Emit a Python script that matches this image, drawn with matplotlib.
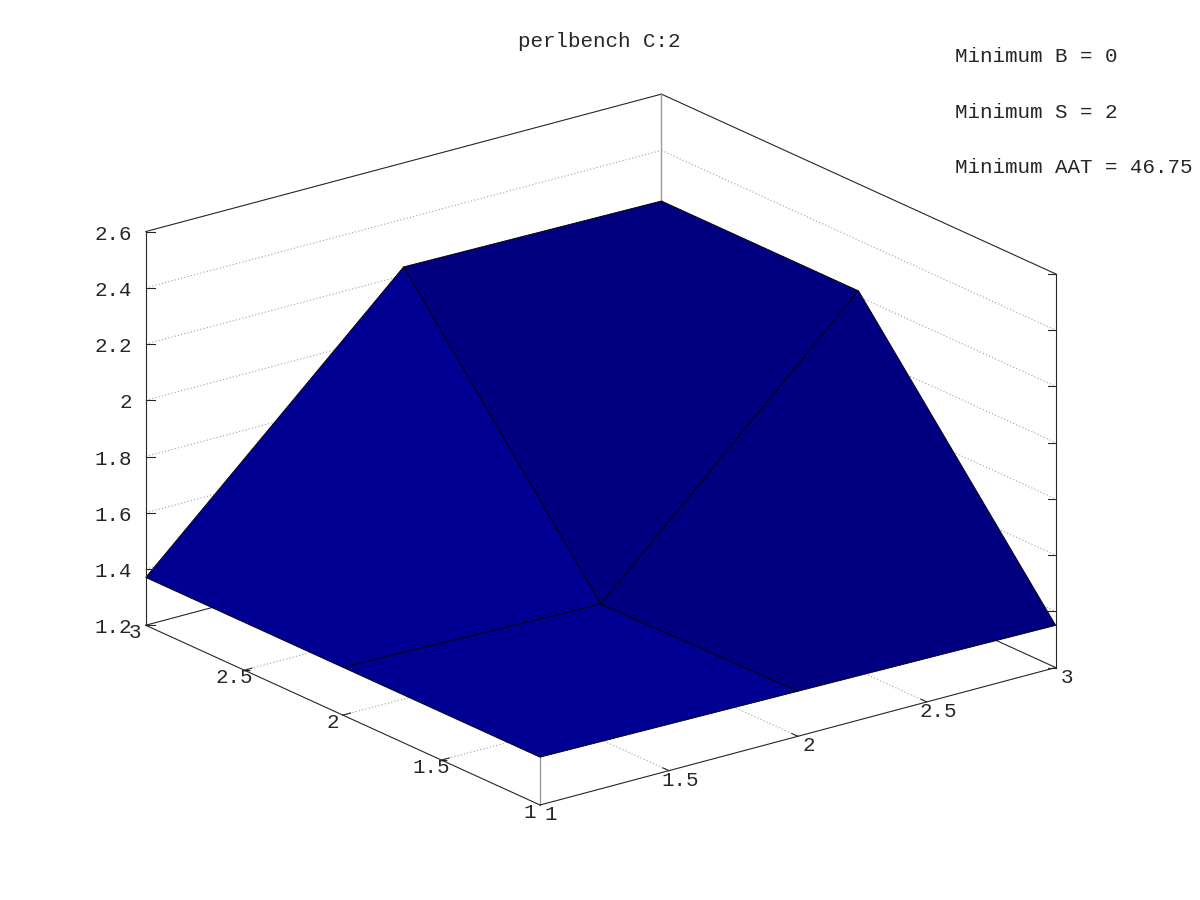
import numpy as np
import matplotlib
matplotlib.use('Agg')
import matplotlib.pyplot as plt
from matplotlib.lines import Line2D
from matplotlib.transforms import IdentityTransform

# ---------------------------------------------------------------------------
# Data (Octave surf, perlbench C:2)
# ---------------------------------------------------------------------------

x_vals = [1, 2, 3]
y_vals = [1, 2, 3]
z_vals = [
    [1.37, 1.36, 1.35],   # y = 1
    [1.37, 1.35, 2.22],   # y = 2
    [1.37, 2.23, 2.22],   # y = 3
]

title = 'perlbench C:2'
notes = ['Minimum B = 0', 'Minimum S = 2', 'Minimum AAT = 46.75']

xy_ticks = [1, 1.5, 2, 2.5, 3]
xy_tick_labels = ['1', '1.5', '2', '2.5', '3']
z_ticks = [1.2, 1.4, 1.6, 1.8, 2.0, 2.2, 2.4, 2.6]
z_tick_labels = ['1.2', '1.4', '1.6', '1.8', '2', '2.2', '2.4', '2.6']

XLIM = (1, 3)
YLIM = (1, 3)
ZLIM = (1.2, 2.6)

W, H = 1200, 900
INK = '#262626'
GRID = '#a0a0a0'
FS = 15

plt.rcParams['font.family'] = ['Liberation Mono', 'DejaVu Sans Mono']

fig = plt.figure(figsize=(12, 9), dpi=100)
# square (in pixels) axes so apply_aspect leaves it alone
ax = fig.add_axes([0.1, 0.1, 0.6, 0.8], projection='3d',
                  proj_type='ortho', computed_zorder=False)
ax.view_init(elev=20.4, azim=-127.4)
ax.set_box_aspect((1, 1, 0.647))
ax.set_xlim(*XLIM)
ax.set_ylim(*YLIM)
ax.set_zlim(*ZLIM)
ax.set_axis_off()
fig.canvas.draw()


def to_px(x, y, z):
    v = ax.get_proj() @ np.array([x, y, z, 1.0])
    return ax.transData.transform((v[0] / v[3], v[1] / v[3]))


# ── fit the projected box onto the Octave layout (pixels, y up) ────────────
x0, x1 = XLIM
y0, y1 = YLIM
z0, z1 = ZLIM
p_front = to_px(x0, y0, z0)
p_left = to_px(x0, y1, z0)
p_right = to_px(x1, y0, z0)
scale = (1055 - 145) / (p_right[0] - p_left[0])
bb = ax.get_position()
bx, by, bw, bh = bb.x0 * W, bb.y0 * H, bb.width * W, bb.height * H
u = (p_front - np.array([bx, by])) / np.array([bw, bh])
nw, nh = bw * scale, bh * scale
ax.set_position([(540 - u[0] * nw) / W, (95 - u[1] * nh) / H, nw / W, nh / H])


def seg(p, q, **kw):
    ax.plot([p[0], q[0]], [p[1], q[1]], [p[2], q[2]], **kw)


# ── back of the box and grids (behind the surface) ─────────────────────────
back = dict(color=INK, lw=0.8, zorder=1)
seg((x0, y1, z1), (x1, y1, z1), **back)
seg((x1, y1, z1), (x1, y0, z1), **back)
seg((x0, y1, z0), (x1, y1, z0), **back)
seg((x1, y1, z0), (x1, y0, z0), **back)
seg((x1, y1, z0), (x1, y1, z1), color='#9a9a9a', lw=1.0, zorder=1)
seg((x0, y0, z0), (x0, y0, z1), color='#9a9a9a', lw=1.0, zorder=1)

dots = dict(color=GRID, lw=0.8, ls=(0, (1, 2)), zorder=1)
for z in z_ticks[1:-1]:
    seg((x0, y1, z), (x1, y1, z), **dots)
    seg((x1, y1, z), (x1, y0, z), **dots)
for t in xy_ticks[1:-1]:
    seg((t, y0, z0), (t, y1, z0), **dots)
    seg((x0, t, z0), (x1, t, z0), **dots)
    seg((t, y0, z0), (t, y0 + 0.03, z0), color=INK, lw=0.8, zorder=1)
    seg((x0, t, z0), (x0 + 0.03, t, z0), color=INK, lw=0.8, zorder=1)

# ── surface, flat faces coloured by first corner like Octave's jet ─────────
X, Y = np.meshgrid(x_vals, y_vals)
Z = np.array(z_vals)
cmap = matplotlib.colormaps['jet'].resampled(64)
face_rgba = cmap(plt.Normalize(Z.min(), Z.max())(Z))
ax.plot_surface(X, Y, Z, rstride=1, cstride=1, facecolors=face_rgba,
                edgecolor='black', linewidth=0.6, shade=False, zorder=2)

# ── front axis lines ───────────────────────────────────────────────────────
front = dict(color=INK, lw=0.8, zorder=3)
seg((x0, y0, z0), (x1, y0, z0), **front)
seg((x0, y0, z0), (x0, y1, z0), **front)
seg((x0, y1, z0), (x0, y1, z1), **front)
seg((x1, y0, z0), (x1, y0, z1), **front)

# ── ticks and labels (screen space, Octave style) ──────────────────────────
for z, lab in zip(z_ticks, z_tick_labels):
    px, py = to_px(x0, y1, z)
    fig.add_artist(Line2D([px, px + 9], [py, py], color=INK, lw=0.8,
                          transform=IdentityTransform()))
    fig.text((px - 14) / W, (py - 8) / H, lab, ha='right', va='baseline',
             fontsize=FS, color=INK)
    qx, qy = to_px(x1, y0, z)
    fig.add_artist(Line2D([qx - 8, qx], [qy, qy], color=INK, lw=0.8,
                          transform=IdentityTransform()))

for t, lab in zip(xy_ticks, xy_tick_labels):
    px, py = to_px(x0, t, z0)
    fig.text((px - 10.5) / W, (py - 12.5) / H, lab, ha='center',
             va='baseline', fontsize=FS, color=INK)
    qx, qy = to_px(t, y0, z0)
    fig.text((qx + 11) / W, (qy - 15) / H, lab, ha='center',
             va='baseline', fontsize=FS, color=INK)

fig.text(599 / W, 1 - 47 / H, title, ha='center', va='baseline',
         fontsize=FS, color=INK)
for base, note in zip([62, 117.5, 173], notes):
    fig.text(955 / W, 1 - base / H, note, ha='left', va='baseline',
             fontsize=FS, color=INK)

fig.savefig('out.png', dpi=100)
